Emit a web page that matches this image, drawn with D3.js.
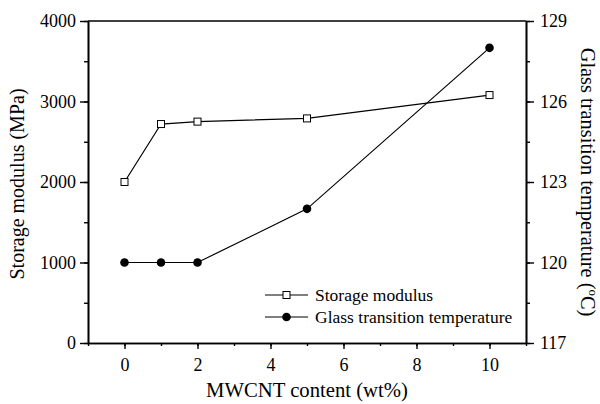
<!DOCTYPE html>
<html>
<head>
<meta charset="utf-8">
<script src="https://cdn.jsdelivr.net/npm/d3@7"></script>
<style>
  html, body { margin: 0; padding: 0; background: #fff; }
  svg { display: block; }
</style>
</head>
<body>
<svg id="chart" width="600" height="404"></svg>
<script>
// MWCNT loading (wt%)
const content = [0, 1, 2, 5, 10];
// Storage modulus (MPa)
const modulus = [2000, 2720, 2750, 2790, 3080];
// Glass transition temperature (°C)
const tg = [120, 120, 120, 122, 128];

const xTicks = [0, 2, 4, 6, 8, 10];
const yLeftTicks = [0, 1000, 2000, 3000, 4000];
const yRightTicks = [117, 120, 123, 126, 129];

const seriesNames = ["Storage modulus", "Glass transition temperature"];

const FONT = "'Liberation Serif'";

const margin = { left: 88, right: 74, top: 21, bottom: 61 };
const W = 600, H = 404;
const svg = d3.select("#chart");

const x = d3.scaleLinear().domain([-1, 11]).range([margin.left, W - margin.right]);
const yL = d3.scaleLinear().domain([0, 4000]).range([H - margin.bottom, margin.top]);
const yR = d3.scaleLinear().domain([117, 129]).range([H - margin.bottom, margin.top]);

const x0 = margin.left, x1 = W - margin.right;
const y0 = H - margin.bottom, y1 = margin.top;

// frame top line
svg.append("line").attr("x1", x0).attr("x2", x1).attr("y1", y1).attr("y2", y1)
  .attr("stroke", "#000").attr("stroke-width", 1.6);

function styleAxis(g) {
  g.attr("font-family", null).attr("font-size", null);
  g.selectAll("path.domain").attr("stroke", "#000").attr("stroke-width", 1.6);
  g.selectAll(".tick line").attr("stroke", "#000").attr("stroke-width", 1.4);
  g.selectAll(".tick text").style("font-family", FONT)
    .style("font-size", "18px").attr("fill", "#000");
}

// bottom axis: minor ticks then major
svg.append("g").attr("transform", `translate(0,${y0})`)
  .call(d3.axisBottom(x).tickValues(d3.range(-1, 12, 1)).tickSize(3).tickFormat("").tickSizeOuter(0))
  .call(styleAxis);
svg.append("g").attr("transform", `translate(0,${y0})`)
  .call(d3.axisBottom(x).tickValues(xTicks).tickSize(6).tickPadding(9).tickSizeOuter(0).tickFormat(d3.format("d")))
  .call(styleAxis);

// left axis
svg.append("g").attr("transform", `translate(${x0},0)`)
  .call(d3.axisLeft(yL).tickValues(d3.range(0, 4001, 500)).tickSize(4).tickFormat("").tickSizeOuter(0))
  .call(styleAxis);
svg.append("g").attr("transform", `translate(${x0},0)`)
  .call(d3.axisLeft(yL).tickValues(yLeftTicks).tickSize(8).tickPadding(4).tickSizeOuter(0).tickFormat(d3.format("d")))
  .call(styleAxis);

// right axis
svg.append("g").attr("transform", `translate(${x1},0)`)
  .call(d3.axisRight(yR).tickValues(d3.range(117, 129.1, 1.5)).tickSize(4).tickFormat("").tickSizeOuter(0))
  .call(styleAxis);
svg.append("g").attr("transform", `translate(${x1},0)`)
  .call(d3.axisRight(yR).tickValues(yRightTicks).tickSize(8).tickPadding(6).tickSizeOuter(0).tickFormat(d3.format("d")))
  .call(styleAxis);

// storage modulus series
const modPts = content.map((c, i) => [c, modulus[i]]);
svg.append("path").datum(modPts)
  .attr("fill", "none").attr("stroke", "#000").attr("stroke-width", 1.2)
  .attr("d", d3.line().x(d => x(d[0])).y(d => yL(d[1])));
svg.selectAll("rect.mod").data(modPts).join("rect").attr("class", "mod")
  .attr("x", d => x(d[0]) - 3.5).attr("y", d => yL(d[1]) - 3.5)
  .attr("width", 7).attr("height", 7)
  .attr("fill", "#fff").attr("stroke", "#000").attr("stroke-width", 1);

// glass transition series
const tgPts = content.map((c, i) => [c, tg[i]]);
svg.append("path").datum(tgPts)
  .attr("fill", "none").attr("stroke", "#000").attr("stroke-width", 1.2)
  .attr("d", d3.line().x(d => x(d[0])).y(d => yR(d[1])));
svg.selectAll("circle.tg").data(tgPts).join("circle").attr("class", "tg")
  .attr("cx", d => x(d[0])).attr("cy", d => yR(d[1])).attr("r", 4.3)
  .attr("fill", "#000");

// legend
const leg = svg.append("g").attr("transform", "translate(265,295)");
seriesNames.forEach((name, i) => {
  const g = leg.append("g").attr("transform", `translate(0,${i * 22})`);
  g.append("line").attr("x1", 0).attr("x2", 43).attr("y1", 0).attr("y2", 0)
    .attr("stroke", "#000").attr("stroke-width", 1.2);
  if (i === 0) {
    g.append("rect").attr("x", 18).attr("y", -3.5).attr("width", 7).attr("height", 7)
      .attr("fill", "#fff").attr("stroke", "#000");
  } else {
    g.append("circle").attr("cx", 21.5).attr("cy", 0).attr("r", 4.3).attr("fill", "#000");
  }
  g.append("text").attr("x", 50).attr("y", 6)
    .style("font-family", FONT).style("font-size", "17.5px").text(name);
});

// axis titles
svg.append("text").attr("x", (x0 + x1) / 2).attr("y", 397)
  .attr("text-anchor", "middle").style("font-family", FONT).style("font-size", "20.7px")
  .text("MWCNT content (wt%)");

svg.append("text")
  .attr("transform", "translate(24,184) rotate(-90)")
  .attr("text-anchor", "middle").style("font-family", FONT).style("font-size", "20px")
  .text("Storage modulus (MPa)");

const rt = svg.append("text")
  .attr("transform", "translate(581,182) rotate(90)")
  .attr("text-anchor", "middle").style("font-family", FONT).style("font-size", "20.4px");
rt.append("tspan").text("Glass transition temperature (");
rt.append("tspan").style("font-size", "13px").attr("dy", -8).text("o");
rt.append("tspan").attr("dy", 8).text("C)");
</script>
</body>
</html>
